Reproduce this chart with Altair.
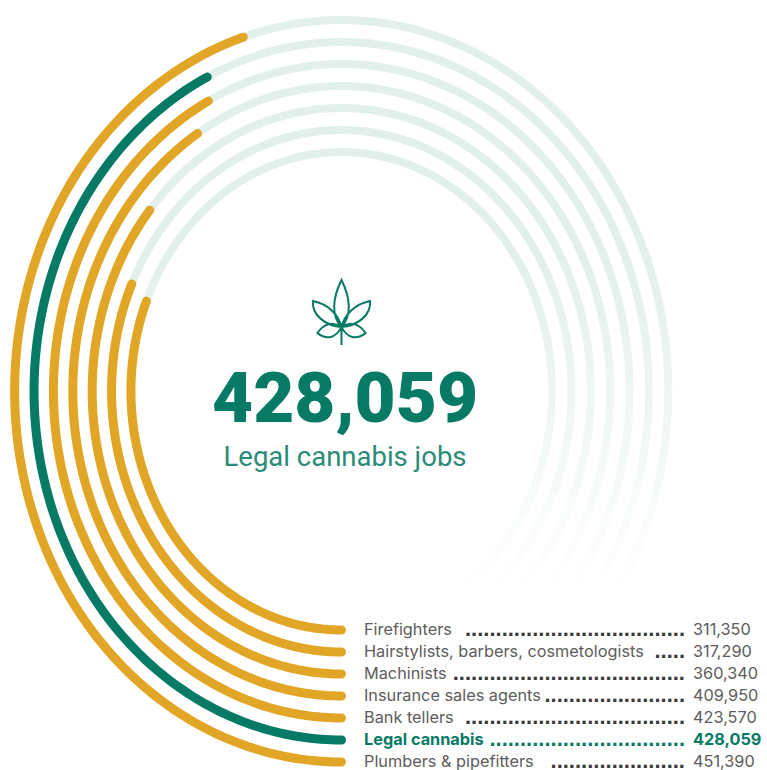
import numpy as np
import pandas as pd
import altair as alt

# Occupations from innermost to outermost ring
occupations = ["Firefighters", "Hairstylists, barbers, cosmetologists", "Machinists",
               "Insurance sales agents", "Bank tellers", "Legal cannabis", "Plumbers & pipefitters"]
jobs = [311350, 317290, 360340, 409950, 423570, 428059, 451390]
leader_counts = [36, 5, 38, 23, 36, 32, 22]
ring_radii = [239, 261, 283, 305, 327, 349, 371]

FULL_CIRCLE = 1_000_000   # jobs represented by one complete turn
W, H = 767, 770
CX, CY = 341.5, 391
X_STRETCH = 0.881

GREEN = "#067a64"
ORANGE = "#e1a626"
PALE = "#e1f0ea"
GREY = "#5c5c5c"
FONT = "Roboto"
LEGEND_FONT = "Inter"

LEAF = ("M0,.47 C-.35,.1 -.3,-.5 0,-1.1 C.3,-.5 .35,.1 0,.47 Z "
        "M0,.47 C-.1,.05 -.45,-.3 -.95,-.4 C-1,.1 -.5,.42 0,.47 Z "
        "M0,.47 C.1,.05 .45,-.3 .95,-.4 C1,.1 .5,.42 0,.47 Z "
        "M0,.47 C-.3,.25 -.62,.38 -.8,.67 C-.5,.9 -.2,.85 0,.47 Z "
        "M0,.47 C.3,.25 .62,.38 .8,.67 C.5,.9 .2,.85 0,.47 Z "
        "M0,.47 L0,1.07")


def arc_points(radius, value):
    """Ellipse-scale points for a ring, sweeping clockwise from six o'clock."""
    theta = np.linspace(0, value / FULL_CIRCLE * 2 * np.pi, 160)
    return pd.DataFrame({"x": -radius * np.sin(theta), "y": -radius * np.cos(theta), "i": np.arange(160)})


def px_x(p):
    return (p - CX) / X_STRETCH


def px_y(p):
    return CY - p


x_scale = alt.Scale(domain=[px_x(0), px_x(W)], range=[0, W], nice=False, zero=False)
y_scale = alt.Scale(domain=[px_y(H), px_y(0)], range=[H, 0], nice=False, zero=False)
X = alt.X("x:Q", scale=x_scale, axis=None)
Y = alt.Y("y:Q", scale=y_scale, axis=None)
ORDER = alt.Order("i:Q")

layers = []

# Pale full rings that fade out towards the bottom of the page
FADE_TOP, FADE_BOTTOM = 250, 597
for r in ring_radii:
    top, bottom = CY - r, CY + r
    a = (FADE_TOP - top) / (bottom - top)
    b = (FADE_BOTTOM - top) / (bottom - top)
    grad = alt.Gradient(gradient="linear", x1=0, x2=0, y1=0, y2=1, stops=[
        alt.GradientStop(color=PALE, offset=max(a, 0)),
        alt.GradientStop(color="#ffffff", offset=min(b, 1)),
    ])
    layers.append(
        alt.Chart(arc_points(r, FULL_CIRCLE)).mark_line(stroke=grad, strokeWidth=8)
        .encode(x=X, y=Y, order=ORDER)
    )

# Value arcs
for name, value, r in zip(occupations, jobs, ring_radii):
    col = GREEN if name == "Legal cannabis" else ORANGE
    layers.append(
        alt.Chart(arc_points(r, value)).mark_line(stroke=col, strokeWidth=9, strokeCap="round")
        .encode(x=X, y=Y, order=ORDER)
    )

# Legend rows, one beside each ring's starting end
rows = pd.DataFrame({
    "name": occupations,
    "value": [f"{v:,}" for v in jobs],
    "dots": ["." * n for n in leader_counts],
    "y": [-r for r in ring_radii],
    "label_x": px_x(364),
    "dots_x": px_x(685),
    "value_x": px_x(693),
    "dots_y": [-r - 6 for r in ring_radii],
})
plain = rows[rows["name"] != "Legal cannabis"]
hero = rows[rows["name"] == "Legal cannabis"]


def row_layers(df, color, weight):
    txt = dict(font=LEGEND_FONT, fontSize=16.3, color=color, baseline="middle")
    base = alt.Chart(df)
    return [
        base.mark_text(align="left", fontWeight=weight, **txt)
        .encode(x=alt.X("label_x:Q", scale=x_scale, axis=None), y=Y, text="name:N"),
        base.mark_text(align="left", fontWeight=weight, **txt)
        .encode(x=alt.X("value_x:Q", scale=x_scale, axis=None), y=Y, text="value:N"),
        base.mark_text(align="right", font="Liberation Sans", fontSize=22, fontWeight="bold",
                       color="#3a3a3a" if color == GREY else color, baseline="alphabetic")
        .encode(x=alt.X("dots_x:Q", scale=x_scale, axis=None),
                y=alt.Y("dots_y:Q", scale=y_scale, axis=None), text="dots:N"),
    ]


layers += row_layers(plain, GREY, "normal")
layers += row_layers(hero, GREEN, "bold")

# Central headline
headline = pd.DataFrame({"x": [px_x(345)], "y": [px_y(422)], "t": [f"{jobs[5]:,}"]})
subhead = pd.DataFrame({"x": [px_x(345)], "y": [px_y(466)], "t": ["Legal cannabis jobs"]})
layers.append(alt.Chart(headline).mark_text(font=FONT, fontSize=71, fontWeight=900, color=GREEN,
                                            align="center", baseline="alphabetic")
              .encode(x=X, y=Y, text="t:N"))
layers.append(alt.Chart(subhead).mark_text(font=FONT, fontSize=27.5, color="#2a8c78",
                                           align="center", baseline="alphabetic")
              .encode(x=X, y=Y, text="t:N"))

# Leaf icon
icon = pd.DataFrame({"x": [px_x(341.5)], "y": [px_y(313)]})
layers.append(alt.Chart(icon).mark_point(shape=LEAF, size=3600, filled=False, stroke=GREEN,
                                         strokeWidth=2, opacity=1)
              .encode(x=X, y=Y))

chart = alt.layer(*layers).properties(
    width=W, height=H, padding=0, autosize=alt.AutoSizeParams(type="none")
).configure_view(stroke=None)

chart.save("out.html", embed_options={"renderer": "svg", "actions": False})
